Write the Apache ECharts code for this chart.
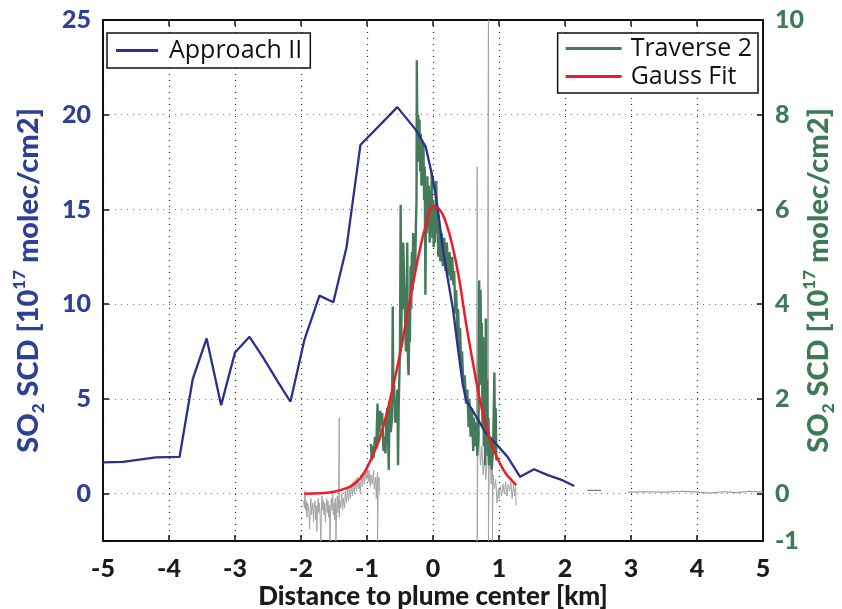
<!DOCTYPE html>
<html>
<head>
<meta charset="utf-8">
<script src="https://cdn.jsdelivr.net/npm/echarts@6/dist/echarts.min.js"></script>
<style>
  html, body { margin: 0; padding: 0; background: #fff; }
  #chart { width: 842px; height: 609px; }
</style>
</head>
<body>
<div id="chart"></div>
<script>
// x ticks / axis ranges
const xTicks = [-5, -4, -3, -2, -1, 0, 1, 2, 3, 4, 5]
const leftRange = [-2.5, 25]
const rightRange = [-1, 10]

// Approach II  (left axis, 1e17 molec/cm2)
const approach = [
  [-5, 1.65], [-4.7, 1.68], [-4.2, 1.91], [-3.84, 1.94], [-3.64, 6.05], [-3.43, 8.19],
  [-3.21, 4.67], [-3.0, 7.45], [-2.78, 8.28], [-2.58, 7.22], [-2.35, 5.9], [-2.16, 4.85],
  [-1.95, 8.1], [-1.72, 10.45], [-1.51, 10.1], [-1.31, 13.0], [-1.1, 18.4], [-0.54, 20.4],
  [-0.26, 19.2], [-0.11, 18.3], [0, 16.6], [0.07, 15.1], [0.15, 12.9], [0.22, 11.4],
  [0.3, 9.8], [0.38, 7.6], [0.45, 5.8], [0.5, 4.94], [0.58, 4.5], [0.8, 3.2], [0.95, 2.65],
  [1.13, 1.94], [1.32, 0.89], [1.53, 1.29], [1.74, 0.98], [1.96, 0.71], [2.14, 0.4]
]

// Traverse 2 (right axis)
const traverse = [
  [-0.94, 1.05], [-0.93, 0.7], [-0.92, 1.0], [-0.9, 0.75], [-0.88, 1.2], [-0.86, 0.95],
  [-0.84, 1.9], [-0.83, 1.1], [-0.82, 1.6], [-0.81, 1.3], [-0.8, 1.75], [-0.78, 1.45],
  [-0.77, 1.7], [-0.75, 0.9], [-0.74, 1.2], [-0.72, 0.85], [-0.71, 1.5], [-0.69, 1.8],
  [-0.67, 0.5], [-0.66, 1.95], [-0.64, 1.3], [-0.62, 1.6], [-0.61, 3.95], [-0.6, 1.9],
  [-0.59, 2.3], [-0.57, 1.5], [-0.56, 1.95], [-0.55, 1.7], [-0.54, 2.2], [-0.53, 0.6],
  [-0.52, 1.8], [-0.5, 3.1], [-0.49, 6.1], [-0.48, 3.2], [-0.47, 5.1], [-0.46, 3.9],
  [-0.45, 5.3], [-0.43, 5.3], [-0.42, 3.5], [-0.41, 3.0], [-0.4, 3.7], [-0.39, 5.3],
  [-0.38, 2.8], [-0.37, 2.5], [-0.36, 3.4], [-0.35, 3.2], [-0.34, 4.8], [-0.33, 3.9],
  [-0.32, 5.1], [-0.31, 4.3], [-0.3, 5.5], [-0.29, 4.6], [-0.28, 5.2], [-0.27, 4.7],
  [-0.26, 5.6], [-0.25, 6.2], [-0.245, 9.15], [-0.235, 7.0], [-0.225, 8.0], [-0.215, 7.2],
  [-0.205, 7.9], [-0.195, 6.8], [-0.185, 7.6], [-0.175, 6.5], [-0.165, 7.3], [-0.155, 6.6],
  [-0.145, 7.4], [-0.135, 6.2], [-0.125, 6.9], [-0.115, 4.2], [-0.105, 6.1], [-0.095, 5.5],
  [-0.085, 6.7], [-0.075, 5.6], [-0.065, 6.5], [-0.05, 5.3], [-0.04, 6.4], [-0.03, 5.6],
  [-0.02, 6.8], [-0.01, 5.4], [0.0, 6.2], [0.01, 5.2], [0.02, 6.1], [0.03, 5.3],
  [0.05, 6.6], [0.06, 5.5], [0.07, 6.0], [0.08, 5.0], [0.1, 5.6], [0.11, 4.9],
  [0.13, 5.5], [0.15, 4.8], [0.17, 5.4], [0.19, 4.7], [0.21, 5.3], [0.23, 4.6],
  [0.25, 5.1], [0.27, 4.5], [0.29, 5.0], [0.31, 4.4], [0.32, 4.7], [0.34, 3.8],
  [0.35, 4.3], [0.37, 3.3], [0.38, 3.9], [0.4, 2.9], [0.41, 3.5], [0.43, 2.6],
  [0.44, 3.0], [0.46, 2.3], [0.48, 2.5], [0.5, 1.9], [0.52, 2.2], [0.54, 1.4],
  [0.55, 2.0], [0.57, 1.2], [0.59, 1.8], [0.61, 0.9], [0.62, 1.6], [0.64, 1.0],
  [0.66, 1.5], [0.67, 0.8], [0.69, 1.3], [0.7, 4.5], [0.71, 2.3], [0.72, 4.3],
  [0.73, 3.0], [0.74, 3.6], [0.75, 1.4], [0.76, 3.3], [0.77, 1.0], [0.78, 2.9],
  [0.79, 0.6], [0.8, 3.7], [0.81, 1.5], [0.82, 2.4], [0.83, 0.8], [0.84, 1.6],
  [0.85, 0.6], [0.87, 1.1], [0.89, 0.5], [0.91, 0.9], [0.93, 2.56], [0.94, 0.9],
  [0.95, 1.8], [0.96, 0.7]
]

// Gauss Fit (right axis)
const gauss = [
  [-1.95, 0], [-1.7, 0.01], [-1.5, 0.04], [-1.3, 0.12], [-1.2, 0.2], [-1.1, 0.33],
  [-1.0, 0.55], [-0.9, 0.85], [-0.8, 1.2], [-0.7, 1.7], [-0.6, 2.3], [-0.5, 2.95],
  [-0.4, 3.7], [-0.3, 4.45], [-0.2, 5.15], [-0.1, 5.7], [0, 6.05], [0.1, 6.0],
  [0.2, 5.7], [0.3, 5.2], [0.4, 4.5], [0.5, 3.6], [0.6, 2.8], [0.7, 2.05],
  [0.8, 1.45], [0.9, 1.0], [1.0, 0.68], [1.1, 0.43], [1.2, 0.27], [1.26, 0.18]
]

// excluded measurements (grey, right axis)
const greyLeft = [
  [-1.96, -0.15], [-1.95, -0.3], [-1.94, 0.05], [-1.93, -0.35], [-1.92, -0.15], [-1.91, -0.5],
  [-1.9, -0.2], [-1.88, -0.4], [-1.87, -0.75], [-1.86, -0.3], [-1.85, -0.1], [-1.84, -0.45],
  [-1.82, -0.2], [-1.81, -0.6], [-1.8, -0.3], [-1.79, -0.15], [-1.78, -0.55], [-1.77, -0.25],
  [-1.76, -0.8], [-1.75, -0.35], [-1.74, -0.1], [-1.73, -0.4], [-1.72, -0.2], [-1.71, -0.5],
  [-1.7, -1.0], [-1.69, -0.3], [-1.68, -0.05], [-1.67, -0.35], [-1.66, -0.15], [-1.65, -0.45],
  [-1.64, -0.2], [-1.63, -0.6], [-1.62, -0.25], [-1.61, -0.1], [-1.6, -0.4], [-1.59, -0.15],
  [-1.58, -0.5], [-1.57, -0.25], [-1.56, -1.0], [-1.55, -0.3], [-1.54, -0.1], [-1.53, -0.35],
  [-1.52, 0.0], [-1.51, -0.45], [-1.5, -0.2], [-1.49, -0.55], [-1.48, -0.1], [-1.47, -1.0],
  [-1.46, -0.3], [-1.45, -0.05], [-1.44, -0.4], [-1.43, -0.2], [-1.42, 1.6], [-1.42, -0.5],
  [-1.41, -0.15], [-1.4, -0.3], [-1.38, 0.0], [-1.37, -0.35], [-1.36, -0.1], [-1.34, -0.3],
  [-1.33, 0.05], [-1.31, -0.2], [-1.3, 0.1], [-1.28, -0.15], [-1.27, 0.15], [-1.25, -0.1],
  [-1.24, 0.2], [-1.22, -0.05], [-1.21, 0.25], [-1.19, 0.0], [-1.18, 0.3], [-1.16, 0.05],
  [-1.15, 0.35], [-1.13, 0.1], [-1.12, 0.25], [-1.1, 0.0], [-1.09, 0.4], [-1.07, 0.15],
  [-1.06, 0.45], [-1.04, 0.2], [-1.03, 0.5], [-1.01, 0.3], [-1.0, 0.6], [-0.98, 0.25],
  [-0.97, 0.5], [-0.95, 0.15], [-0.94, 0.4], [-0.92, 0.2], [-0.9, 0.5], [-0.89, 0.1],
  [-0.87, 0.35], [-0.86, -0.1], [-0.85, 0.3], [-0.84, 0.45], [-0.84, -1.0], [-0.83, 0.2],
  [-0.82, 0.35], [-0.81, 0.05]
]
const greyRight = [
  [0.66, 1.2], [0.67, 6.9], [0.67, -1.0], [0.68, 0.9], [0.7, 1.3], [0.72, 0.6],
  [0.74, 1.0], [0.76, 0.4], [0.78, 0.8], [0.8, 0.3], [0.82, 0.7], [0.84, 10],
  [0.84, -1], [0.85, 0.5], [0.87, 0.9], [0.88, 0.2], [0.9, 0.8], [0.9, -1.0],
  [0.91, 0.4], [0.93, 0.1], [0.95, 0.3], [0.97, -0.2], [0.99, 0.1], [1.0, -0.1],
  [1.02, 0.15], [1.04, -0.05], [1.06, 0.2], [1.08, 0.0], [1.1, 0.25], [1.12, -0.05],
  [1.14, 0.2], [1.16, 0.05], [1.18, 0.25], [1.2, -0.1], [1.22, 0.2], [1.24, -0.05],
  [1.25, 0.15], [1.26, -0.25]
]
const greyDash = [[2.34, 0.07], [2.55, 0.07]]
const greyFar = [
  [2.95, 0.03], [3.2, 0.04], [3.5, 0.03], [3.8, 0.05], [4.0, 0.03], [4.2, 0.01],
  [4.4, 0.04], [4.6, 0.02], [4.8, 0.05], [5.0, 0.03]
]

const blue = '#2b2f8e'
const green = '#447a5a'
const red = '#ee1c25'
const grey = '#a3a3a3'
const blueLabel = '#2e4095'
const greenLabel = '#3e7a56'
const font = 'Lato'

const chart = echarts.init(document.getElementById('chart'))

function nameStyle(color) {
  return {
    color,
    fontFamily: font,
    fontWeight: 900,
    fontSize: 29,
    lineHeight: 36,
    rich: {
      sub: { color, fontFamily: font, fontWeight: 900, fontSize: 17, lineHeight: 36, verticalAlign: 'bottom' },
      sup: { color, fontFamily: font, fontWeight: 900, fontSize: 17, lineHeight: 36, verticalAlign: 'top' }
    }
  }
}

const tickLabel = (color) => ({ color, fontFamily: font, fontWeight: 900, fontSize: 25 })

function line(name, data, color, yIdx, width) {
  return {
    name,
    type: 'line',
    data,
    yAxisIndex: yIdx,
    showSymbol: false,
    symbol: 'none',
    lineStyle: { color, width },
    itemStyle: { color },
    z: 2
  }
}

const axisLine = { show: true, onZero: false, lineStyle: { color: '#111', width: 2 } }
const axisTick = { show: true, inside: true, length: 6, lineStyle: { color: '#111', width: 1.5 } }

const option = {
  animation: false,
  backgroundColor: '#fff',
  grid: { left: 103, right: 79, top: 20, bottom: 68, containLabel: false, outerBoundsMode: 'none' },
  legend: [
    {
      data: ['Approach II'],
      left: 107, top: 33,
      padding: [5, 8, 5, 9],
      backgroundColor: '#fff',
      borderColor: '#111', borderWidth: 1.5, borderRadius: 0,
      icon: 'rect', itemWidth: 42, itemHeight: 3,
      textStyle: { fontFamily: 'Open Sans', fontSize: 25, color: '#111', padding: [0, 0, 0, 6] }
    },
    {
      data: ['Traverse 2', 'Gauss Fit'],
      orient: 'vertical',
      right: 84, top: 33,
      padding: [3, 6, 4, 8],
      itemGap: 3,
      backgroundColor: '#fff',
      borderColor: '#111', borderWidth: 1.5, borderRadius: 0,
      icon: 'rect', itemWidth: 56, itemHeight: 3,
      textStyle: { fontFamily: 'Open Sans', fontSize: 25, color: '#111', padding: [0, 0, 0, 4] }
    }
  ],
  xAxis: [
    {
      type: 'value',
      min: xTicks[0], max: xTicks[xTicks.length - 1], interval: 1,
      name: 'Distance to plume center [km]',
      nameLocation: 'middle', nameGap: 43, nameMoveOverlap: false,
      nameTextStyle: { color: '#1a1a1a', fontFamily: font, fontWeight: 900, fontSize: 26 },
      axisLine, axisTick,
      axisLabel: Object.assign(tickLabel('#1a1a1a'), { margin: 15 }),
      splitLine: { show: true, lineStyle: { color: '#222', type: [1, 5], width: 1.2 } }
    },
    {
      type: 'value', position: 'top',
      min: xTicks[0], max: xTicks[xTicks.length - 1], interval: 1,
      axisLine, axisTick,
      axisLabel: { show: false },
      splitLine: { show: false }
    }
  ],
  yAxis: [
    {
      type: 'value', position: 'left',
      min: leftRange[0], max: leftRange[1], splitNumber: 5,
      name: 'SO{sub|2} SCD [10{sup|17} molec/cm2]',
      nameLocation: 'middle', nameGap: 56, nameMoveOverlap: false,
      nameTextStyle: nameStyle(blueLabel),
      axisLine, axisTick,
      axisLabel: Object.assign(tickLabel(blueLabel), {
        margin: 12,
        formatter: (v) => (v < 0 ? '' : String(v))
      }),
      splitLine: { show: true, lineStyle: { color: '#6d6dae', type: [1, 5], width: 1.2 } }
    },
    {
      type: 'value', position: 'right',
      min: rightRange[0], max: rightRange[1], splitNumber: 5,
      name: 'SO{sub|2} SCD [10{sup|17} molec/cm2]',
      nameLocation: 'middle', nameGap: 38, nameMoveOverlap: false,
      nameTextStyle: nameStyle(greenLabel),
      axisLine, axisTick,
      axisLabel: Object.assign(tickLabel(greenLabel), { margin: 12 }),
      splitLine: { show: false }
    }
  ],
  series: [
    line('greyLeft', greyLeft, grey, 1, 1),
    line('greyRight', greyRight, grey, 1, 1),
    line('greyDash', greyDash, '#777', 1, 1.2),
    line('greyFar', greyFar, '#999', 1, 1.2),
    line('Traverse 2', traverse, green, 1, 2.4),
    line('Approach II', approach, blue, 0, 2.3),
    line('Gauss Fit', gauss, red, 1, 2.5)
  ]
}

// the fit is a smooth curve
option.series[6].smooth = true

chart.setOption(option)
</script>
</body>
</html>
